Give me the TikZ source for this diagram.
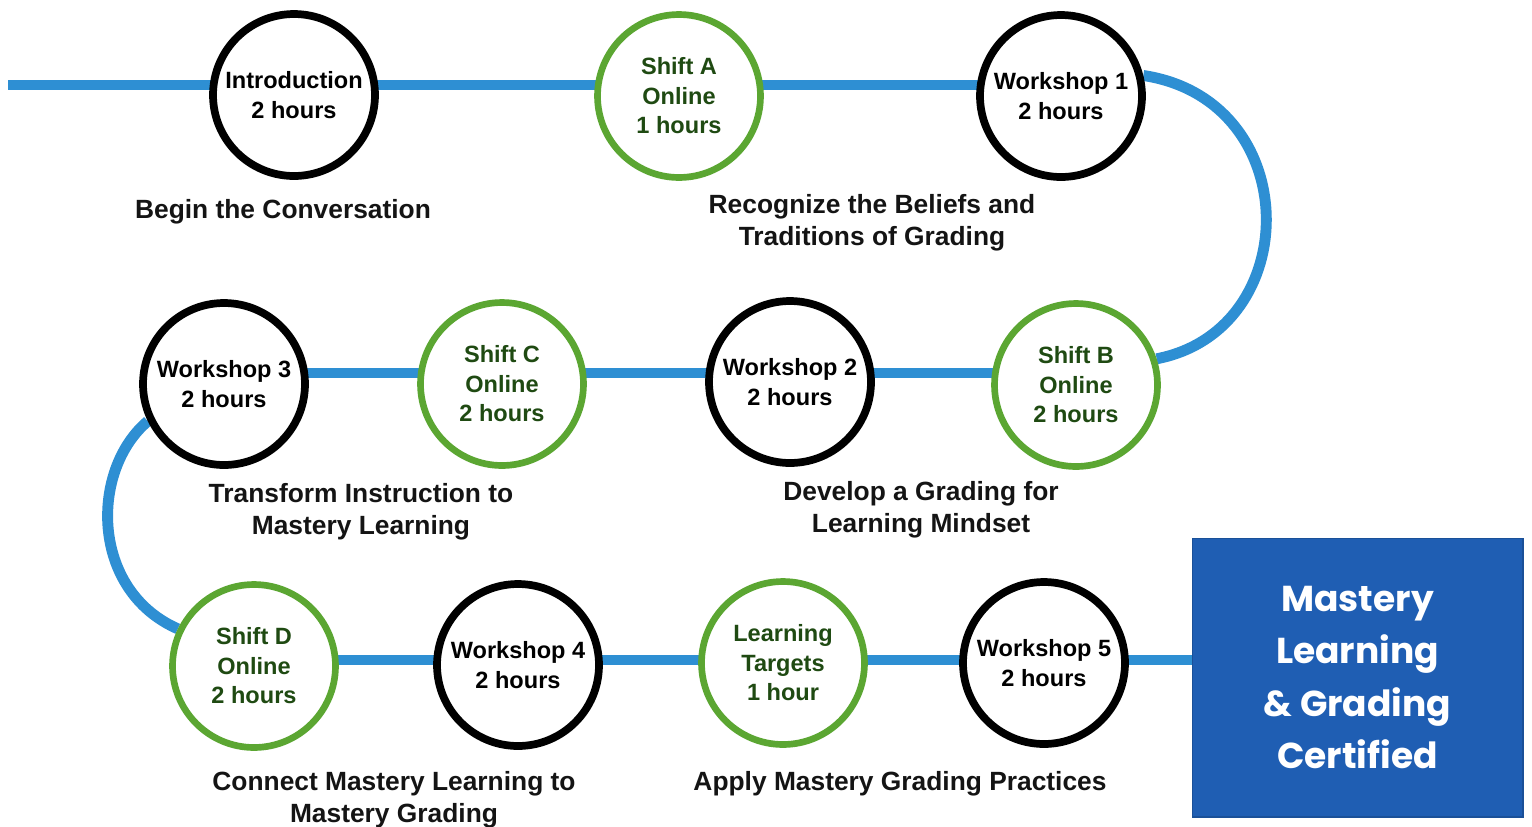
\documentclass[tikz,border=0pt]{standalone}
\usepackage{fontspec}
\setmainfont{Liberation Sans}
\newfontfamily\boxfont{Poppins}
\usetikzlibrary{backgrounds}
\definecolor{pathblue}{HTML}{2E8FD3}
\definecolor{stepgreen}{HTML}{5BA632}
\definecolor{textgreen}{HTML}{1F4A12}
\definecolor{boxblue}{HTML}{1F5EB3}
\tikzset{
  pathline/.style={draw=pathblue, line width=6.2pt},
  wscircle/.style={circle, draw=black, line width=4.4pt, fill=white, minimum size=3.24cm, inner sep=0pt, align=center, font=\fontsize{13.4}{16.8}\selectfont\bfseries, text=black},
  shcircle/.style={circle, draw=stepgreen, line width=3.8pt, fill=white, minimum size=3.26cm, inner sep=0pt, align=center, font=\fontsize{13.4}{16.8}\selectfont\bfseries, text=textgreen},
  caption/.style={align=center, font=\fontsize{15}{18.1}\selectfont\bfseries, text=black!92},
}
\begin{document}
\begin{tikzpicture}[x=0.02cm, y=-0.02cm]
\useasboundingbox (0,0) rectangle (1532,826);
% row 1
\node[wscircle] (intro) at (294,95) {Introduction\\2 hours};
\node[shcircle] (sA) at (679,96) {Shift A\\Online\\1 hours};
\node[wscircle] (w1) at (1061,96) {Workshop 1\\2 hours};
% row 2
\node[wscircle] (w3) at (224,384) {Workshop 3\\2 hours};
\node[shcircle] (sC) at (502,384) {Shift C\\Online\\2 hours};
\node[wscircle] (w2) at (790,382) {Workshop 2\\2 hours};
\node[shcircle] (sB) at (1076,385) {Shift B\\Online\\2 hours};
% row 3
\node[shcircle] (sD) at (254,666) {Shift D\\Online\\2 hours};
\node[wscircle] (w4) at (518,665) {Workshop 4\\2 hours};
\node[shcircle] (lt) at (783,663) {Learning\\Targets\\1 hour};
\node[wscircle] (w5) at (1044,663) {Workshop 5\\2 hours};
% certificate box
\node[rectangle, fill=boxblue, draw=boxblue!85!black, line width=0.6pt, minimum width=6.62cm, minimum height=5.58cm, inner sep=0pt, align=center, text=white, font=\boxfont\bfseries\fontsize{20.5}{29.8}\selectfont] (box) at (1357.5,677.5) {Mastery\\Learning\\\& Grading\\Certified};
% captions
\node[caption] (c1) at (283,212) {Begin the Conversation};
\node[caption] (c2) at (872,223) {Recognize the Beliefs and\\Traditions of Grading};
\node[caption] (c3) at (361,512) {Transform Instruction to\\Mastery Learning};
\node[caption] (c4) at (921,510) {Develop a Grading for\\Learning Mindset};
\node[caption] (c5) at (394,800) {Connect Mastery Learning to\\Mastery Grading};
\node[caption] (c6) at (900,784) {Apply Mastery Grading Practices};
% path
\coordinate (start) at (8,85);
\coordinate (r2) at (0,373);
\coordinate (r3) at (0,660);
\begin{pgfonlayer}{background}
\fill[white] (0,0) rectangle (1532,826);
\draw[pathline] (start) -- (start -| w1.center);
\draw[pathline] (w1.14) .. controls (1305,100) and (1305,330) .. (sB.18);
\draw[pathline] (w3 |- r2) -- (sB |- r2);
\draw[pathline] (w3.206) .. controls (90,470) and (90,590) .. (sD.154);
\draw[pathline] (sD |- r3) -- (box.west |- r3);
\end{pgfonlayer}
\end{tikzpicture}
\end{document}
